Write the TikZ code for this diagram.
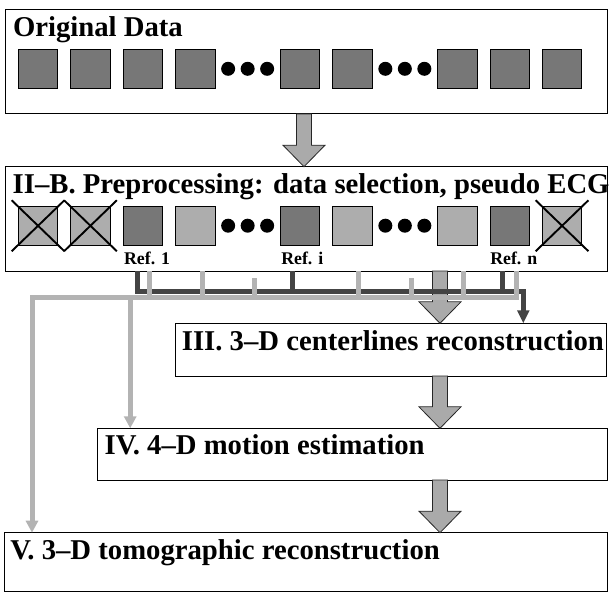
\documentclass[tikz,border=0pt]{standalone}
\usepackage{fontspec}
\setmainfont{Liberation Serif}
\usetikzlibrary{calc,arrows.meta}
\definecolor{sqdark}{HTML}{777777}
\definecolor{sqlight}{HTML}{ADADAD}
\definecolor{linedark}{HTML}{444444}
\definecolor{linelight}{HTML}{B3B3B3}
\definecolor{fatfill}{HTML}{AAAAAA}
\tikzset{
 stagebox/.style={draw=black, line width=1pt, fill=white, anchor=north west, inner sep=0pt, outer sep=0pt},
 stagetitle/.style={anchor=base west, inner sep=0pt, font=\fontsize{28.7}{30}\selectfont\bfseries},
 reflabel/.style={anchor=base west, inner sep=0pt, font=\fontsize{17.8}{19}\selectfont\bfseries},
 sq/.style={draw=black, line width=0.8pt, anchor=north west, minimum width=39.5pt, minimum height=39.5pt, inner sep=0pt, outer sep=0pt},
 sqd/.style={sq, fill=sqdark},
 sql/.style={sq, fill=sqlight},
 blackdot/.style={circle, fill=black, minimum size=14pt, inner sep=0pt},
 crossline/.style={line width=1.9pt, black},
 fatarr/.style={draw=black!85, line width=0.8pt, fill=fatfill, line join=miter},
 darkbus/.style={draw=linedark, line width=5pt},
 lightbus/.style={draw=linelight, line width=5pt},
}
\newcommand\fatarrow[3]{%
 \draw[fatarr] ($(#3 |- #1.south)+(-7.5,0)$) -- ($(#3 |- #2.north)+(-7.5,-21.5)$) -- ($(#3 |- #2.north)+(-21,-21.5)$) -- (#3 |- #2.north) -- ($(#3 |- #2.north)+(21,-21.5)$) -- ($(#3 |- #2.north)+(7.5,-21.5)$) -- ($(#3 |- #1.south)+(7.5,0)$) -- cycle;}
\begin{document}
\begin{tikzpicture}[x=1pt,y=-1pt]
\useasboundingbox (0,0) rectangle (611,594);
% boxes
\node[stagebox, minimum width=602pt, minimum height=104pt] (orig) at (5,10) {};
\node[stagebox, minimum width=602pt, minimum height=104.3pt] (prep) at (5,166.7) {};
\node[stagebox, minimum width=431pt, minimum height=52.7pt] (cent) at (175.7,323.3) {};
\node[stagebox, minimum width=510pt, minimum height=51.7pt] (motion) at (97,428.3) {};
\node[stagebox, minimum width=602.3pt, minimum height=59pt] (tomo) at (4.7,532.7) {};
% titles
\node[stagetitle] (t1) at ($(orig.north west)+(7.8,26.3)$) {Original Data};
\node[stagetitle] (t2) at ($(prep.north west)+(7.5,26.5)$) {II–B. Preprocessing: data selection, pseudo ECG};
\node[stagetitle] (t3) at ($(cent.north west)+(6,26.7)$) {III. 3–D centerlines reconstruction};
\node[stagetitle] (t4) at ($(motion.north west)+(7.5,26.5)$) {IV. 4–D motion estimation};
\node[stagetitle] (t5) at ($(tomo.north west)+(5.5,26.5)$) {V. 3–D tomographic reconstruction};
% original data squares
\foreach \k in {0,1,2,3,5,6,8,9,10}
  \node[sqd] (o\k) at ({18.3+52.4*\k},49) {};
\foreach \c in {247.65,404.85}{
  \node[blackdot] at (\c-19.5,68.8) {};
  \node[blackdot] at (\c,68.8) {};
  \node[blackdot] at (\c+19.5,68.8) {};
}
% preprocessing squares
\foreach \k in {0,1,3,6,8,10}
  \node[sql] (p\k) at ({18.3+52.4*\k},206) {};
\foreach \k in {2,5,9}
  \node[sqd] (p\k) at ({18.3+52.4*\k},206) {};
\foreach \c in {247.65,404.85}{
  \node[blackdot] at (\c-19.5,225.7) {};
  \node[blackdot] at (\c,225.7) {};
  \node[blackdot] at (\c+19.5,225.7) {};
}
\foreach \k in {0,1,10}{
  \draw[crossline] ($(p\k.center)+(-26.4,-25.5)$) -- ($(p\k.center)+(26.4,25.5)$);
  \draw[crossline] ($(p\k.center)+(-26.4,25.5)$) -- ($(p\k.center)+(26.4,-25.5)$);
}
\node[reflabel] (r1) at ($(p2.south west)+(0.8,18.5)$) {Ref. 1};
\node[reflabel] (ri) at ($(p5.south west)+(0.8,18.5)$) {Ref. i};
\node[reflabel] (rn) at ($(p9.south west)+(0.2,18.5)$) {Ref. n};
% fat arrows
\coordinate (fa1) at (304,0);
\coordinate (fa2) at (440,0);
\fatarrow{orig}{prep}{fa1}
\fatarrow{prep}{cent}{fa2}
\fatarrow{cent}{motion}{fa2}
\fatarrow{motion}{tomo}{fa2}
% bus coordinates
\coordinate (ybd) at (0,291);
\coordinate (ybl) at (0,297.5);
\coordinate (ysh) at (0,278);
\coordinate (xd1) at (137,0);
\coordinate (xd2) at (292,0);
\coordinate (xd3) at (502.5,0);
\coordinate (xd4) at (523.3,0);
\coordinate (xl0) at (32,0);
\coordinate (xlb) at (130.2,0);
\coordinate (xl1) at (149,0);
\coordinate (xl2) at (202,0);
\coordinate (xl3) at (254,0);
\coordinate (xl4) at (358,0);
\coordinate (xl5) at (411,0);
\coordinate (xl6) at (463.3,0);
\coordinate (xl7) at (516,0);
% dark bus
\draw[darkbus, -{Triangle[width=11.6pt,length=13pt]}] (xd1 |- prep.south) -- (xd1 |- ybd) -- (xd4 |- ybd) -- (xd4 |- cent.north);
\draw[darkbus] (xd2 |- prep.south) -- (xd2 |- ybd);
\draw[darkbus] (xd3 |- prep.south) -- (xd3 |- ybd);
% light bus
\draw[lightbus, -{Triangle[width=12pt,length=12pt]}] (xl7 |- prep.south) -- (xl7 |- ybl) -- (xl0 |- ybl) -- (xl0 |- tomo.north);
\draw[lightbus, -{Triangle[width=12pt,length=12pt]}] (xlb |- ybl) -- (xlb |- motion.north);
\foreach \c in {xl1,xl2,xl4,xl6}
  \draw[lightbus] (\c |- prep.south) -- (\c |- ybl);
\foreach \c in {xl3,xl5}
  \draw[lightbus] (\c |- ysh) -- (\c |- ybl);
\end{tikzpicture}
\end{document}
